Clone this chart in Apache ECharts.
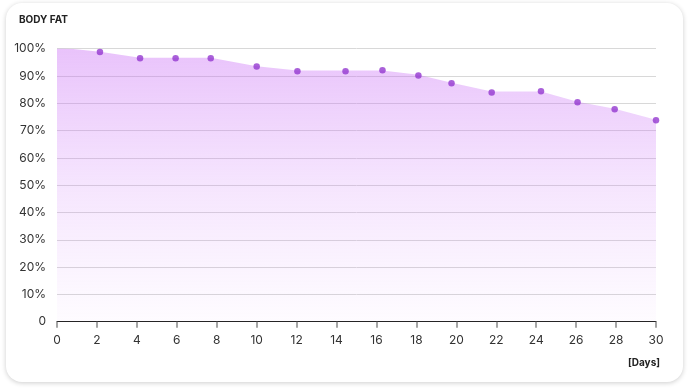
<!DOCTYPE html>
<html>
<head>
<meta charset="utf-8">
<script src="https://cdn.jsdelivr.net/npm/echarts@6/dist/echarts.min.js"></script>
<style>
  html, body { margin: 0; padding: 0; background: #fff; }
  #card { position: absolute; left: 6px; top: 3px; width: 677px; height: 379px; background: #fff; border-radius: 16px; box-shadow: 0 1px 5px rgba(0,0,0,0.2); }
  #chart { position: absolute; left: 0; top: 0; width: 691px; height: 392px; }
</style>
</head>
<body>
<div id="card"></div>
<div id="chart"></div>
<script>
const title = 'BODY FAT';
const xName = '[Days]';
const areaDays = [0, 2.15, 4.16, 5.94, 7.7, 10.0, 12.04, 14.45, 16.3, 18.1, 19.76, 21.77, 24.24, 26.07, 27.93, 30];
const areaFat  = [100.5, 98.9, 96.7, 96.7, 96.7, 93.6, 92.0, 92.0, 92.0, 90.5, 87.5, 84.3, 84.3, 80.6, 78.0, 74.0];
const dotDays = [2.15, 4.16, 5.94, 7.7, 10.0, 12.04, 14.45, 16.3, 18.1, 19.76, 21.77, 24.24, 26.07, 27.93, 30];
const dotFat  = [98.8, 96.5, 96.5, 96.5, 93.5, 91.7, 91.7, 92.1, 90.2, 87.3, 84.0, 84.4, 80.4, 77.8, 73.8];
const yTicks = [0, 10, 20, 30, 40, 50, 60, 70, 80, 90, 100];
const xTicks = [0, 2, 4, 6, 8, 10, 12, 14, 16, 18, 20, 22, 24, 26, 28, 30];

const chart = echarts.init(document.getElementById('chart'), null, { renderer: 'canvas' });
const font = 'Inter, "Noto Sans", sans-serif';
chart.setOption({
  backgroundColor: 'transparent',
  animation: false,
  textStyle: { fontFamily: font },
  grid: { left: 57, right: 35, top: 48.7, bottom: 70.3 },
  graphic: [
    { type: 'text', left: 19, top: 15, style: { text: title, font: 'bold 10px ' + font, fill: '#222' } },
    { type: 'text', right: 31, top: 358, style: { text: xName, font: 'bold 10px ' + font, fill: '#222' } }
  ],
  xAxis: {
    type: 'value', min: 0, max: 30, interval: 2,
    axisLine: { show: true, lineStyle: { color: '#222', width: 1.2 } },
    axisTick: { show: true, length: 6, lineStyle: { color: '#888', width: 1.5 } },
    axisLabel: { color: '#333', fontSize: 12, margin: 13, fontFamily: font,
      customValues: xTicks },
    splitLine: { show: false }
  },
  yAxis: {
    type: 'value', min: 0, max: 100, interval: 10,
    axisLine: { show: false },
    axisTick: { show: false },
    axisLabel: { color: '#333', fontSize: 12, margin: 11, fontFamily: font,
      formatter: v => yTicks.indexOf(v) >= 0 ? (v === 0 ? '0' : v + '%') : '' },
    splitLine: { show: true, lineStyle: { color: '#d8d8d8', width: 1 } }
  },
  series: [
    {
      type: 'line',
      data: areaDays.map((d, i) => [d, areaFat[i]]),
      showSymbol: false,
      symbol: 'none',
      lineStyle: { width: 0 },
      areaStyle: {
        origin: 'start',
        color: new echarts.graphic.LinearGradient(0, 0, 0, 1, [
          { offset: 0, color: 'rgba(200,105,245,0.58)' },
          { offset: 0.5, color: 'rgba(205,120,248,0.28)' },
          { offset: 1, color: 'rgba(215,140,252,0.04)' }
        ])
      },
      z: 2
    },
    {
      type: 'scatter',
      data: dotDays.map((d, i) => [d, dotFat[i]]),
      symbolSize: 6.5,
      itemStyle: { color: '#9438cf' },
      z: 3
    }
  ]
});
</script>
</body>
</html>
